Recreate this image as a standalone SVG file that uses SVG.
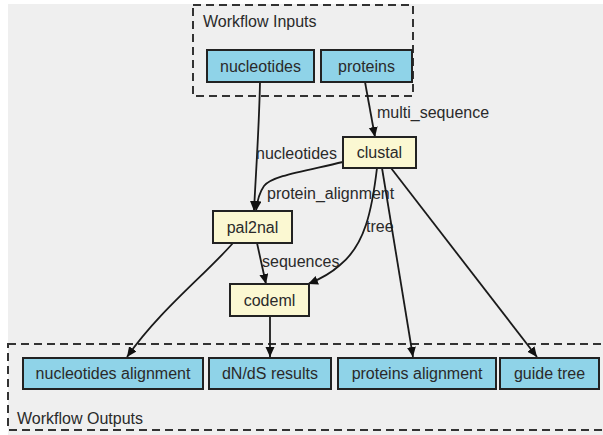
<svg xmlns="http://www.w3.org/2000/svg" width="603" height="435" viewBox="0 0 603 435">
<style>
text{font-family:"Liberation Sans",Arial,sans-serif;font-size:16px;fill:#2a2a2a}
.io rect{fill:#8fd3e8;stroke:#222;stroke-width:2}
.st rect{fill:#fbf8d2;stroke:#222;stroke-width:2}
.node text{text-anchor:middle}
.cluster{fill:none;stroke:#333;stroke-width:2;stroke-dasharray:8 5}
.edge{fill:none;stroke:#1a1a1a;stroke-width:1.8;marker-end:url(#arr)}
</style>
<defs>
<marker id="arr" markerUnits="userSpaceOnUse" markerWidth="11" markerHeight="10" refX="10" refY="4.5" orient="auto">
<path d="M0,0 L10,4.5 L0,9 z" fill="#111"/>
</marker>
</defs>
<rect x="0" y="0" width="603" height="435" fill="#ffffff"/>
<rect x="8" y="4" width="595" height="431" fill="#efefef"/>
<g id="cluster_inputs">
<rect class="cluster" x="193" y="5" width="220" height="91"/>
<text x="203" y="27">Workflow Inputs</text>
</g>
<g id="cluster_outputs">
<rect class="cluster" x="8" y="344" width="605" height="86"/>
<text x="17" y="424">Workflow Outputs</text>
</g>
<g id="edges">
<path class="edge" d="M260,82 C259,130 256,170 254,211"/>
<text x="256" y="159">nucleotides</text>
<path class="edge" d="M365,82 L375,137"/>
<text x="377" y="118">multi_sequence</text>
<path class="edge" d="M343,162 C300,172 272,176 264,186 C259,193 257,202 256,211"/>
<text x="267" y="199">protein_alignment</text>
<path class="edge" d="M377,168 C372,210 365,245 340,265 C330,274 318,280 308,284"/>
<text x="366" y="232">tree</text>
<path class="edge" d="M382,168 L413,357"/>
<path class="edge" d="M391,168 L537,357"/>
<path class="edge" d="M257,243 L266,284"/>
<text x="262" y="267">sequences</text>
<path class="edge" d="M233,243 C205,275 160,310 127,357"/>
<path class="edge" d="M270,316 L270,357"/>
</g>
<g id="nucleotides" class="node io"><rect x="207" y="50" width="107" height="32"/><text x="260.5" y="72">nucleotides</text></g>
<g id="proteins" class="node io"><rect x="321" y="50" width="91" height="32"/><text x="366.5" y="72">proteins</text></g>
<g id="clustal" class="node st"><rect x="343" y="137" width="73" height="31"/><text x="379.5" y="158">clustal</text></g>
<g id="pal2nal" class="node st"><rect x="213" y="211" width="79" height="32"/><text x="252.5" y="233">pal2nal</text></g>
<g id="codeml" class="node st"><rect x="230" y="284" width="79" height="32"/><text x="269.5" y="306">codeml</text></g>
<g id="nucleotides_alignment" class="node io"><rect x="23" y="358" width="180" height="31"/><text x="113" y="379">nucleotides alignment</text></g>
<g id="dnds_results" class="node io"><rect x="209" y="358" width="122" height="31"/><text x="270" y="379">dN/dS results</text></g>
<g id="proteins_alignment" class="node io"><rect x="338" y="358" width="158" height="31"/><text x="417" y="379">proteins alignment</text></g>
<g id="guide_tree" class="node io"><rect x="500" y="358" width="99" height="31"/><text x="549.5" y="379">guide tree</text></g>
</svg>
